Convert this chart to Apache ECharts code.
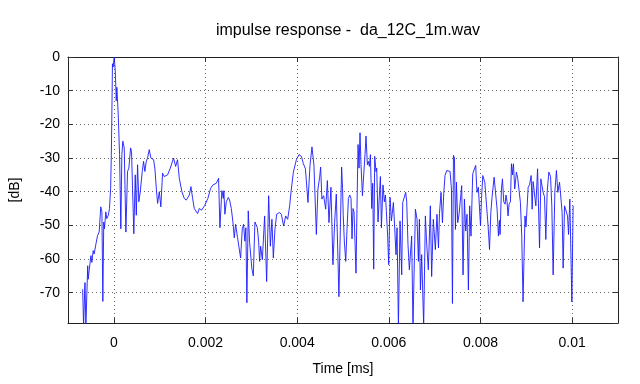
<!DOCTYPE html>
<html><head><meta charset="utf-8">
<script src="https://cdn.jsdelivr.net/npm/echarts@6/dist/echarts.min.js"></script>
<style>html,body{margin:0;padding:0;background:#fff}#c{width:640px;height:384px}</style>
</head><body><div id="c"></div>
<script>
const titleText = 'impulse response -  da_12C_1m.wav';
const xName = 'Time [ms]';
const yName = '[dB]';
const xRange = [-0.001, 0.011];
const yRange = [-79, 0];

const time = [
-0.000680,-0.000660,-0.000630,-0.000610,-0.000570,-0.000560,-0.000535,-0.000500,-0.000480,-0.000450,
-0.000430,-0.000390,-0.000355,-0.000320,-0.000285,-0.000260,-0.000240,-0.000220,-0.000205,-0.000175,
-0.000155,-0.000120,-0.000095,-0.000070,-0.000055,-0.000045,-0.000030,-0.000015,0.000008,0.000031,
0.000053,0.000066,0.000096,0.000125,0.000153,0.000175,0.000196,0.000227,0.000263,0.000299,
0.000328,0.000365,0.000386,0.000408,0.000436,0.000467,0.000490,0.000518,0.000546,0.000577,
0.000620,0.000648,0.000677,0.000707,0.000736,0.000773,0.000808,0.000867,0.000895,0.000932,
0.000955,0.000992,0.001026,0.001063,0.001100,0.001130,0.001173,0.001232,0.001303,0.001348,
0.001390,0.001428,0.001485,0.001537,0.001581,0.001647,0.001682,0.001719,0.001755,0.001790,
0.001828,0.001865,0.001915,0.001952,0.001987,0.002030,
0.002052,0.002111,0.002161,0.002236,0.002286,0.002314,0.002357,0.002388,0.002401,0.002423,
0.002454,0.002476,0.002498,0.002526,0.002563,0.002598,0.002628,0.002656,0.002700,0.002728,
0.002766,0.002803,0.002831,0.002859,0.002881,0.002903,0.002933,0.002962,0.003013,0.003043,
0.003078,0.003131,0.003159,0.003181,0.003203,0.003240,0.003290,0.003334,0.003378,0.003415,
0.003449,0.003480,0.003515,0.003553,0.003611,0.003655,0.003705,0.003749,0.003793,0.003836,
0.003873,0.003917,0.003983,0.004039,0.004092,0.004135,0.004180,0.004236,0.004280,0.004323,
0.004366,0.004419,0.004453,0.004490,0.004512,0.004540,0.004578,0.004622,0.004659,0.004694,
0.004737,0.004781,0.004817,0.004854,0.004911,
0.004970,0.004990,0.005005,0.005030,0.005060,0.005088,0.005118,0.005147,0.005175,0.005197,
0.005218,0.005240,0.005262,0.005284,0.005305,0.005328,0.005350,0.005371,0.005393,0.005424,
0.005452,0.005480,0.005502,0.005532,0.005554,0.005576,0.005598,0.005627,0.005649,0.005670,
0.005692,0.005720,0.005736,0.005764,0.005794,0.005816,0.005838,0.005872,0.005903,0.005926,
0.005947,0.005976,0.005997,0.006026,0.006056,0.006100,0.006157,0.006179,0.006209,0.006244,
0.006281,0.006303,0.006340,0.006368,0.006390,0.006418,0.006448,0.006498,0.006527,0.006580,
0.006615,0.006645,0.006667,0.006689,0.006717,0.006760,0.006797,0.006825,0.006862,0.006906,
0.006934,0.006971,0.007015,0.007050,0.007083,0.007105,0.007139,0.007170,0.007198,0.007226,
0.007264,0.007301,0.007336,0.007366,0.007388,0.007410,0.007432,0.007453,0.007475,0.007503,
0.007532,0.007562,0.007590,0.007619,0.007649,0.007677,0.007706,0.007736,0.007764,0.007793,
0.007830,0.007858,0.007895,0.007923,0.007953,
0.008000,0.008022,0.008050,0.008094,0.008123,0.008166,0.008197,0.008225,0.008253,0.008297,
0.008327,0.008362,0.008392,0.008414,0.008427,0.008457,0.008479,0.008507,0.008536,0.008557,
0.008579,0.008601,0.008623,0.008653,0.008675,0.008697,0.008718,0.008747,0.008783,0.008812,
0.008840,0.008871,0.008900,0.008928,0.008950,0.008971,0.008993,0.009040,0.009070,0.009105,
0.009127,0.009148,0.009180,0.009208,0.009245,0.009288,0.009317,0.009367,0.009397,0.009425,
0.009454,0.009491,0.009528,0.009556,0.009585,0.009622,0.009657,0.009687,0.009724,0.009753,
0.009781,0.009803,0.009834,0.009869,0.009899,0.009921,0.009949,0.009971,0.009993,0.010021
];

const level = [
-69,-80,-67,-80,-62,-66,-63,-59,-61,-57.5,
-58.5,-55.5,-53,-52,-44.5,-46,-72.6,-49,-51,-46,
-48,-47,-45,-39,-29,-19,-2,-3,0,-4,
-13,-9,-17,-29,-51,-29,-25,-27,-52,-34,
-33,-27,-28,-39,-52.5,-35,-47,-32,-43,-40,
-34,-31,-34,-31,-30,-27.5,-30,-30.5,-33,-40,
-43.5,-40,-44.5,-34.5,-35.5,-36,-35,-33,-30,-32.5,
-30.5,-36,-40,-42,-42.5,-41,-38.5,-42,-45,-44.5,
-46.5,-45,-45.5,-46,-44,-44.5,
-42,-39,-38,-37.5,-36,-50.7,-39.7,-42,-39.7,-46.7,
-43,-43.5,-41.7,-42.5,-45,-49,-53.7,-49.7,-53.7,-54,
-59.7,-51,-49.7,-54.7,-50.7,-73,-45.7,-55,-63,-65,
-49,-50.7,-54.7,-60.7,-56.2,-60.2,-47.2,-66.7,-41.2,-56.2,
-48.2,-59.7,-51.2,-46.7,-46.2,-46.7,-50.2,-47.2,-48.2,-44.2,
-39.2,-34.2,-30.5,-29,-29.5,-31.7,-33.2,-43.2,-32.2,-26.7,
-32.2,-52.7,-39.2,-35.7,-32.7,-42.2,-41.2,-45.2,-36.7,-49.2,
-38.7,-61.7,-49.2,-40.7,-71.2,
-32.7,-39,-47,-55,-60.7,-51,-42,-41,-42,-54,
-45,-46,-55,-64.2,-45,-26,-33,-22.5,-32,-41.2,
-35,-29,-23.5,-32,-31,-32.5,-29,-45,-37.5,-63,
-29.5,-34,-33,-49,-41,-35.5,-50.7,-38,-43,-41,
-46,-53.7,-61.7,-41.7,-48.7,-43.2,-58.7,-50.7,-80,-48.7,
-64.7,-43.2,-42.7,-40.2,-43,-55.7,-63.2,-53.2,-80,-45.2,
-48.2,-60.7,-48.2,-69.2,-58.7,-80,-47.2,-55.2,-63.2,-44.2,
-65.2,-48.2,-57.2,-46.7,-56.7,-46.5,-40.2,-49.2,-40.5,-35.2,
-33.7,-34,-34,-39.2,-73.2,-29.2,-30,-51.2,-37.2,-49.2,
-46.7,-47.2,-38.2,-64.7,-42.2,-51.7,-46.7,-69.2,-44.2,-53.2,
-34.7,-34.2,-32.2,-40.2,-38.7,
-50.2,-42,-35.2,-37.2,-37.7,-50.2,-57.2,-46.2,-41.5,-35.7,
-36,-45.2,-53.2,-48.5,-52.7,-39.2,-36.2,-43,-43.7,-41,
-43,-47.2,-43.7,-43,-31.7,-35,-31.7,-39.2,-34.2,-36,
-36.5,-43.2,-53.2,-72.7,-59.2,-47.2,-50.5,-38.7,-38,-35.2,
-45.2,-37,-37.5,-44.2,-33.2,-56.7,-36.2,-40.2,-41.5,-54.2,
-40.2,-34.2,-35.5,-44.2,-64.7,-40.2,-33.7,-40.2,-37.2,-36.7,
-46.2,-62.7,-44.2,-44.7,-47.2,-52.7,-42.2,-41.7,-72.7,-44.2
];

const data = time.map((t, i) => [t, level[i]]);
const FONT = "'Liberation Sans', Arial, sans-serif";
const frame = { show: true, onZero: false, lineStyle: { color: '#222', width: 1 } };
const grid = { show: true, lineStyle: { color: '#666', width: 1, type: [1, 3] } };
const ticks = { show: true, inside: true, length: 5, lineStyle: { color: '#333' } };

const chart = echarts.init(document.getElementById('c'), null, { renderer: 'canvas' });
chart.setOption({
  animation: false,
  backgroundColor: '#fff',
  title: {
    text: titleText, left: 343, top: 18, textAlign: 'center',
    textStyle: { fontFamily: FONT, fontSize: 16, fontWeight: 'normal', color: '#000' }
  },
  grid: { left: 68, right: 22, top: 57, bottom: 61 },
  xAxis: [{
    type: 'value', min: xRange[0], max: xRange[1], splitNumber: 6, position: 'bottom',
    name: xName, nameLocation: 'middle', nameGap: 39,
    nameTextStyle: { fontFamily: FONT, fontSize: 14, color: '#000' },
    axisLine: frame, axisTick: ticks,
    axisLabel: { fontFamily: FONT, fontSize: 14, color: '#000', margin: 13, showMinLabel: false, showMaxLabel: false },
    splitLine: grid
  }, {
    type: 'value', min: xRange[0], max: xRange[1], splitNumber: 6, position: 'top',
    axisLine: frame, axisTick: ticks,
    axisLabel: { show: false }, splitLine: { show: false }
  }],
  yAxis: [{
    type: 'value', min: yRange[0], max: yRange[1], splitNumber: 8, position: 'left',
    name: yName, nameLocation: 'middle', nameGap: 46, nameRotate: 90,
    nameTextStyle: { fontFamily: FONT, fontSize: 14, color: '#000' },
    axisLine: frame, axisTick: ticks,
    axisLabel: { fontFamily: FONT, fontSize: 14, color: '#000', margin: 8, showMinLabel: false },
    splitLine: grid
  }, {
    type: 'value', min: yRange[0], max: yRange[1], splitNumber: 8, position: 'right',
    axisLine: frame, axisTick: ticks,
    axisLabel: { show: false }, splitLine: { show: false }
  }],
  series: [{
    type: 'line', data: data, xAxisIndex: 0, yAxisIndex: 0,
    showSymbol: false, symbol: 'none', clip: true,
    lineStyle: { color: '#1a1aff', width: 0.9 }
  }]
});
</script>
</body></html>
